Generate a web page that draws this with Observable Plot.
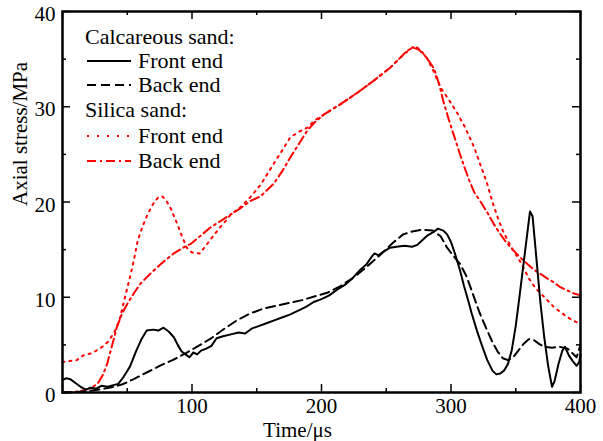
<!DOCTYPE html>
<html><head><meta charset="utf-8">
<script src="https://cdn.jsdelivr.net/npm/d3@7"></script>
<script src="https://cdn.jsdelivr.net/npm/@observablehq/plot@0.6"></script>
<style>
body{margin:0;background:#fff;}
#wrap{position:relative;width:603px;height:441px;}
#wrap svg{display:block;}
#wrap svg, #wrap svg text{font-family:"Liberation Serif","DejaVu Serif","Times New Roman",serif !important;}
#legend{position:absolute;left:0;top:0;pointer-events:none;}
</style></head><body><div id="wrap"></div>
<script>
// ---- data: [time (μs), axial stress (MPa)] ----
const calcFront = [[0,1.3],[3,1.5],[6,1.4],[10,1.0],[14,0.6],[18,0.3],[22,0.5],[26,0.4],[30,0.7],[35,0.6],[40,0.8],[43,0.9],[47,1.6],[52,2.7],[57,4.4],[61,5.6],[65,6.5],[70,6.6],[74,6.5],[78,6.8],[82,6.4],[86,5.8],[89,5.0],[92,4.3],[95,4.0],[98,3.7],[101,4.2],[104,4.0],[107,4.4],[111,4.6],[115,4.9],[119,5.7],[124,5.9],[130,6.1],[136,6.3],[141,6.2],[146,6.7],[152,7.0],[158,7.3],[164,7.6],[170,7.9],[176,8.2],[182,8.6],[188,9.0],[194,9.5],[200,9.8],[206,10.2],[212,10.8],[218,11.3],[224,12.0],[230,12.9],[235,13.5],[239,14.3],[241,14.6],[244,14.4],[248,14.8],[253,15.2],[258,15.3],[264,15.4],[270,15.3],[274,15.5],[278,16.0],[282,16.5],[286,16.8],[290,17.2],[294,17.0],[297,16.6],[300,15.8],[303,14.6],[307,12.8],[310,11.2],[313,9.8],[316,8.3],[320,6.5],[324,4.9],[328,3.4],[332,2.3],[335,1.9],[338,2.0],[341,2.3],[344,3.0],[347,4.5],[350,7.0],[353,10.2],[356,13.5],[359,16.8],[361,19.0],[363,18.5],[366,14.0],[369,9.5],[372,5.8],[375,2.8],[378,0.6],[380,1.2],[383,3.0],[386,4.4],[388,4.8],[391,3.9],[394,3.3],[397,2.8],[399,3.2],[400,4.0]];
const calcBack = [[0,0],[10,0.05],[20,0.15],[30,0.35],[40,0.6],[47,0.9],[55,1.4],[65,2.1],[75,2.8],[85,3.4],[95,4.1],[105,4.9],[115,5.7],[125,6.7],[135,7.6],[145,8.3],[155,8.8],[165,9.1],[175,9.4],[185,9.7],[195,10.1],[205,10.5],[215,11.2],[225,12.1],[235,13.2],[245,14.4],[255,15.7],[263,16.6],[270,16.9],[278,17.1],[286,17.0],[292,16.4],[297,15.2],[302,14.3],[307,13.5],[312,12.2],[317,10.3],[322,8.4],[327,6.8],[332,5.3],[336,4.3],[340,3.6],[344,3.4],[348,3.7],[352,4.4],[356,5.1],[360,5.6],[364,5.5],[368,5.1],[372,4.8],[378,4.7],[384,4.8],[390,4.6],[394,4.1],[397,3.7],[400,5.0]];
const silFront = [[0,3.2],[5,3.3],[11,3.4],[16,3.9],[22,4.1],[29,4.6],[35,5.3],[40,6.3],[44,7.6],[47,9.3],[51,11.5],[55,13.8],[58,15.9],[62,17.5],[66,18.8],[70,19.8],[74,20.5],[77,20.6],[80,20.2],[84,19.2],[88,17.9],[92,16.5],[96,15.2],[100,14.7],[106,14.6],[110,15.3],[114,16.0],[118,16.7],[122,17.4],[126,18.0],[130,18.7],[137,19.4],[145,20.5],[153,21.8],[163,24.0],[170,25.5],[176,26.8],[183,27.4],[189,27.8],[195,28.6],[202,29.2],[215,30.3],[228,31.5],[240,32.7],[253,34.1],[262,35.3],[268,36.0],[272,36.4],[276,36.0],[281,35.2],[286,33.9],[292,32.0],[298,30.8],[305,29.3],[311,27.8],[318,25.7],[323,23.8],[328,21.9],[332,20.0],[336,18.4],[340,17.0],[344,15.9],[348,14.9],[352,14.1],[356,13.1],[360,12.0],[365,11.0],[370,10.3],[375,9.6],[380,8.9],[385,8.4],[390,7.9],[395,7.5],[400,7.2]];
const silBack = [[0,0],[8,0.05],[16,0.2],[22,0.5],[27,0.9],[31,1.8],[34.5,3.0],[38,4.8],[42,6.85],[46,8.3],[50,9.3],[55,10.4],[60,11.4],[68,12.5],[76,13.5],[86,14.6],[93,15.2],[99,15.6],[107,16.5],[114,17.3],[122,18.0],[130,18.7],[137,19.3],[145,20.1],[153,20.6],[163,21.9],[170,23.3],[176,24.7],[183,26.2],[189,27.5],[195,28.4],[202,29.2],[215,30.3],[228,31.5],[240,32.7],[253,34.1],[262,35.3],[266,35.9],[271,36.2],[275,36.0],[279,35.5],[283,34.8],[287,34.0],[291,32.3],[294,30.6],[298,28.8],[302,27.1],[306,25.4],[310,23.8],[314,22.3],[318,21.0],[323,20.0],[328,18.9],[333,17.7],[338,16.65],[343,15.7],[348.5,14.9],[354,14.1],[359,13.5],[364,12.9],[369,12.45],[374,12.0],[379,11.6],[384,11.1],[390,10.7],[395,10.4],[400,10.2]];

// ---- ticks & labels ----
const xMajor = [0,100,200,300,400];
const xMinor = [50,150,250,350];
const xTickLabels = [100,200,300,400];
const yMajor = [0,10,20,30,40];
const yMinor = [5,15,25,35];
const xLabel = "Time/μs";
const yLabel = "Axial stress/MPa";
const groupTitles = ["Calcareous sand:", "Silica sand:"];
const itemNames = ["Front end", "Back end"];

// ---- layout ----
const W = 603, H = 441, mL = 62, mR = 23, mT = 11, mB = 49;
const iw = W - mL - mR, ih = H - mT - mB;
const font = "'Liberation Serif','DejaVu Serif','Times New Roman',serif";
const styles = {
  calcFront: {stroke: "black", strokeWidth: 2, strokeDasharray: null},
  calcBack:  {stroke: "black", strokeWidth: 2, strokeDasharray: "9,5"},
  silFront:  {stroke: "#ff0000", strokeWidth: 2, strokeDasharray: "2,5"},
  silBack:   {stroke: "#ff0000", strokeWidth: 2, strokeDasharray: "9,4,2,4"}
};
const X = d => d[0], Y = d => d[1];
const lineMark = (data, s) => Plot.line(data, {x: X, y: Y, stroke: s.stroke, strokeWidth: s.strokeWidth, strokeDasharray: s.strokeDasharray, strokeLinejoin: "round"});

const plot = Plot.plot({
  width: W, height: H,
  marginLeft: mL, marginRight: mR, marginTop: mT, marginBottom: mB,
  style: {fontFamily: font, fontSize: "21px", background: "white", color: "black", overflow: "visible"},
  x: {domain: [0, 400]},
  y: {domain: [0, 40]},
  marks: [
    lineMark(silFront, styles.silFront),
    lineMark(silBack, styles.silBack),
    lineMark(calcBack, styles.calcBack),
    lineMark(calcFront, styles.calcFront),
    // inward ticks on all four sides
    Plot.ruleX(xMajor, {x: d => d, insetTop: ih - 8, strokeWidth: 1.5}),
    Plot.ruleX(xMinor, {x: d => d, insetTop: ih - 4, strokeWidth: 1.5}),
    Plot.ruleX(xMajor, {x: d => d, insetBottom: ih - 8, strokeWidth: 1.5}),
    Plot.ruleX(xMinor, {x: d => d, insetBottom: ih - 4, strokeWidth: 1.5}),
    Plot.ruleY(yMajor, {y: d => d, insetRight: iw - 8, strokeWidth: 1.5}),
    Plot.ruleY(yMinor, {y: d => d, insetRight: iw - 4, strokeWidth: 1.5}),
    Plot.ruleY(yMajor, {y: d => d, insetLeft: iw - 8, strokeWidth: 1.5}),
    Plot.ruleY(yMinor, {y: d => d, insetLeft: iw - 4, strokeWidth: 1.5}),
    Plot.frame({stroke: "black", strokeWidth: 2.5}),
    Plot.axisX(xTickLabels, {tickSize: 0, tickPadding: 6, label: null}),
    Plot.axisY(yMajor, {tickSize: 0, tickPadding: 7, dy: 3, label: null}),
    Plot.text([xLabel], {text: d => d, frameAnchor: "bottom", dx: -24, dy: 38, lineAnchor: "middle"}),
    Plot.text([yLabel], {text: d => d, frameAnchor: "left", rotate: -90, dx: -42, dy: 4, lineAnchor: "middle"})
  ]
});

const wrap = document.getElementById("wrap");
wrap.appendChild(plot);

// ---- legend overlay ----
const lg = d3.select(wrap).append("svg").attr("id", "legend")
  .attr("width", W).attr("height", H)
  .attr("font-family", font).attr("font-size", 22);
const rowY = [37, 61, 85, 110, 136, 161];
const entries = [
  {title: groupTitles[0]},
  {name: itemNames[0], s: styles.calcFront},
  {name: itemNames[1], s: styles.calcBack},
  {title: groupTitles[1]},
  {name: itemNames[0], s: {...styles.silFront, strokeDasharray: "2,8"}},
  {name: itemNames[1], s: styles.silBack}
];
entries.forEach((e, i) => {
  const y = rowY[i];
  if (e.title) {
    lg.append("text").attr("x", 85).attr("y", y + 7).text(e.title);
  } else {
    lg.append("line").attr("x1", 87).attr("x2", 131).attr("y1", y).attr("y2", y)
      .attr("stroke", e.s.stroke).attr("stroke-width", e.s.strokeWidth)
      .attr("stroke-dasharray", e.s.strokeDasharray);
    lg.append("text").attr("x", 138).attr("y", y + 7).text(e.name);
  }
});
</script></body></html>
